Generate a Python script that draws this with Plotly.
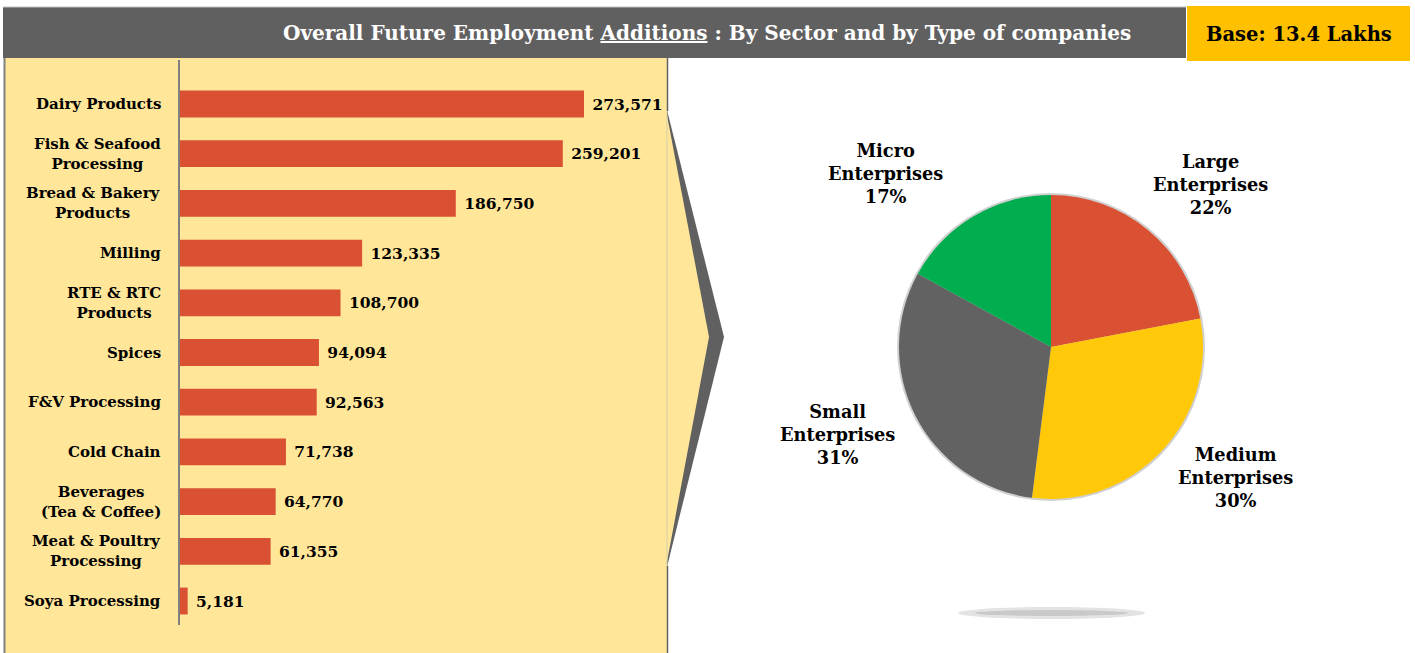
import plotly.graph_objects as go

W, H = 1415, 653

# ---------------- data ----------------
sectors = ["Dairy Products", "Fish & Seafood<br>Processing", "Bread & Bakery<br>Products",
           "Milling", "RTE & RTC<br>Products", "Spices", "F&V Processing", "Cold Chain",
           "Beverages<br>(Tea & Coffee)", "Meat & Poultry<br>Processing", "Soya Processing"]
employment = [273571, 259201, 186750, 123335, 108700, 94094, 92563, 71738, 64770, 61355, 5181]

company_types = ["Large<br>Enterprises", "Medium<br>Enterprises", "Small<br>Enterprises", "Micro<br>Enterprises"]
company_share = [22, 30, 31, 17]

title_text = "Overall Future Employment <u>Additions</u> : By Sector and by Type of companies"
base_text = "Base: 13.4 Lakhs"

# ---------------- styles ----------------
FONT = "DejaVu Serif"
BAR_COLOR = "#D95032"
PANEL = "#FFE699"
DARK = "#606060"
pie_colors = ["#D95032", "#FFC90A", "#626262", "#00AD4F"]
pie_label_pos = [(1210, 185), (1235, 477), (837, 434), (885, 173)]


def px(x):
    return x / W


def py(y):
    return 1 - y / H


fig = go.Figure()

# Bars
fig.add_trace(go.Bar(
    y=sectors, x=employment, orientation="h",
    marker=dict(color=BAR_COLOR, line=dict(width=0)),
    width=0.54,
    text=[f"\u00a0{v:,}" for v in employment],
    textposition="outside",
    textfont=dict(family=FONT, size=15.5, color="black", weight="bold"),
    cliponaxis=False,
    hoverinfo="x+y",
))

# Pie
cx, cy, r = 1051, 347, 152
fig.add_trace(go.Pie(
    labels=[t.replace("<br>", " ") for t in company_types],
    values=company_share,
    sort=False, direction="clockwise", rotation=0,
    marker=dict(colors=pie_colors, line=dict(width=0)),
    textinfo="none",
    showlegend=False,
    domain=dict(x=[px(cx - r), px(cx + r)], y=[py(cy + r), py(cy - r)]),
))

# Axes for bars
dom_top, dom_bot = 60, 625
step = 49.7
first = (104 - dom_top) / step
span = (dom_bot - dom_top) / step
fig.update_layout(
    xaxis=dict(domain=[px(180), px(660)], range=[0, 480 / (404 / 273571)],
               showgrid=False, zeroline=False, showticklabels=False, showline=False, fixedrange=True),
    yaxis=dict(domain=[py(dom_bot), py(dom_top)], type="category",
               categoryorder="array", categoryarray=sectors,
               range=[span - first, -first],
               showgrid=False, zeroline=False, showticklabels=False,
               showline=True, linecolor="#7f7f7f", linewidth=1.5, ticks=""),
)

shapes = []
# header bar
shapes.append(dict(type="rect", xref="paper", yref="paper", x0=px(3), x1=px(1186), y0=py(58), y1=py(7),
                   fillcolor=DARK, line=dict(width=0), layer="below"))
shapes.append(dict(type="line", xref="paper", yref="paper", x0=px(3), x1=px(1186), y0=py(7), y1=py(7),
                   line=dict(color="#c0c0c0", width=1), layer="below"))
# base box
shapes.append(dict(type="rect", xref="paper", yref="paper", x0=px(1187), x1=px(1410), y0=py(61), y1=py(6),
                   fillcolor="#FFC000", line=dict(width=0), layer="below"))
# yellow panel
shapes.append(dict(type="rect", xref="paper", yref="paper", x0=px(5), x1=px(668), y0=py(653), y1=py(58),
                   fillcolor=PANEL, line=dict(width=0), layer="below"))
# chevron: gray outer + yellow inner
shapes.append(dict(type="path", xref="paper", yref="paper",
                   path=f"M {px(667)},{py(110)} L {px(724)},{py(337)} L {px(667)},{py(567)} Z",
                   fillcolor=DARK, line=dict(width=0), layer="below"))
shapes.append(dict(type="path", xref="paper", yref="paper",
                   path=f"M {px(666)},{py(110)} L {px(709)},{py(337)} L {px(666)},{py(567)} Z",
                   fillcolor=PANEL, line=dict(width=0), layer="below"))
# panel borders
shapes.append(dict(type="line", xref="paper", yref="paper", x0=px(4.5), x1=px(4.5), y0=py(58), y1=py(653),
                   line=dict(color="#808080", width=2), layer="below"))
shapes.append(dict(type="line", xref="paper", yref="paper", x0=px(667.5), x1=px(667.5), y0=py(58), y1=py(111),
                   line=dict(color=DARK, width=1.5), layer="below"))
shapes.append(dict(type="line", xref="paper", yref="paper", x0=px(667.5), x1=px(667.5), y0=py(566), y1=py(653),
                   line=dict(color=DARK, width=1.5), layer="below"))
shapes.append(dict(type="line", xref="paper", yref="paper", x0=px(667), x1=px(667), y0=py(111), y1=py(566),
                   line=dict(color="#d6cfae", width=1), layer="below"))
# pie soft edge
shapes.append(dict(type="circle", xref="paper", yref="paper",
                   x0=px(cx - r - 2), x1=px(cx + r + 2), y0=py(cy + r + 2), y1=py(cy - r - 2),
                   fillcolor="#d0d0d0", line=dict(width=0), layer="below"))
# pie floor shadow
shapes.append(dict(type="circle", xref="paper", yref="paper",
                   x0=px(958), x1=px(1145), y0=py(619), y1=py(607),
                   fillcolor="#e3e3e3", line=dict(width=0), layer="below"))
shapes.append(dict(type="circle", xref="paper", yref="paper",
                   x0=px(975), x1=px(1128), y0=py(616), y1=py(610),
                   fillcolor="#c9c9c9", line=dict(width=0), layer="below"))

annotations = []
annotations.append(dict(xref="paper", yref="paper", x=px(707), y=py(33), text=f"<b>{title_text}</b>",
                        showarrow=False, xanchor="center", yanchor="middle",
                        font=dict(family=FONT, size=20, color="white")))
annotations.append(dict(xref="paper", yref="paper", x=px(1299), y=py(34), text=f"<b>{base_text}</b>",
                        showarrow=False, xanchor="center", yanchor="middle",
                        font=dict(family=FONT, size=19.5, color="black")))
# category labels (centered multi-line, right-aligned block)
for s in sectors:
    annotations.append(dict(xref="paper", yref="y", x=px(163), y=s, text=f"<b>{s}</b>",
                            showarrow=False, xanchor="right", yanchor="middle", align="center",
                            font=dict(family=FONT, size=15, color="black")))
# pie labels
for name, v, (lx, ly) in zip(company_types, company_share, pie_label_pos):
    annotations.append(dict(xref="paper", yref="paper", x=px(lx), y=py(ly), text=f"<b>{name}<br>{v}%</b>",
                            showarrow=False, xanchor="center", yanchor="middle", align="center",
                            font=dict(family=FONT, size=17.8, color="black")))

fig.update_layout(
    width=W, height=H, margin=dict(l=0, r=0, t=0, b=0, pad=0),
    paper_bgcolor="white", plot_bgcolor="rgba(0,0,0,0)",
    showlegend=False, shapes=shapes, annotations=annotations,
    bargap=0.45,
)

fig.write_html("out.html",
               config={"displayModeBar": False},
               post_script="document.body.style.margin='0';document.body.style.padding='0';"
                           "document.body.style.overflow='hidden';")
